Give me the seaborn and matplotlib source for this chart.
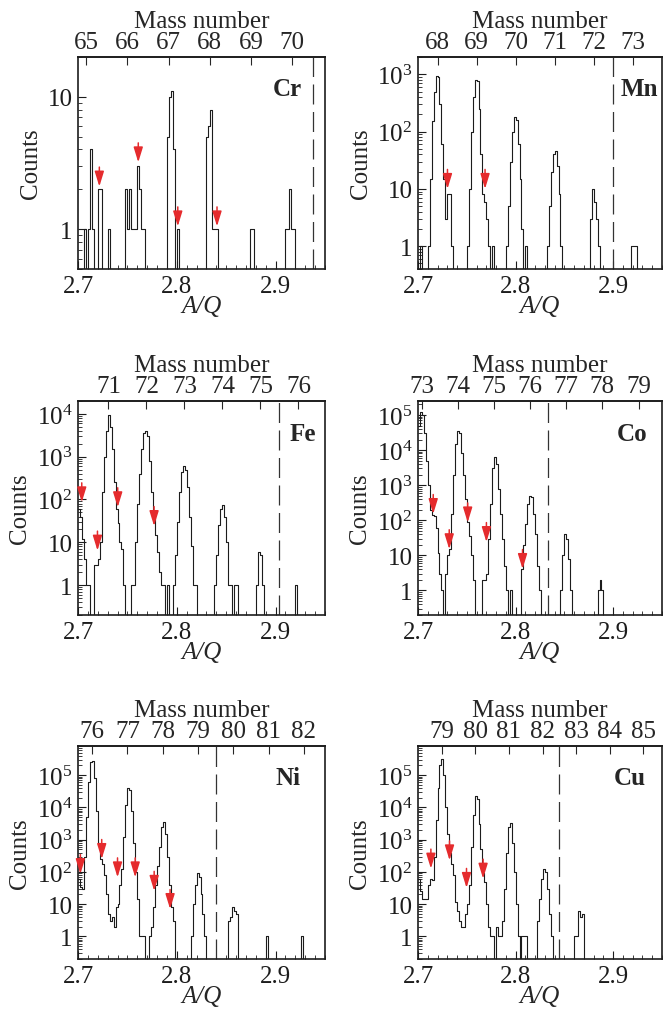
import numpy as np
import pandas as pd
import matplotlib
matplotlib.use("Agg")
import matplotlib.pyplot as plt
import seaborn as sns
from matplotlib.ticker import (FixedLocator, MultipleLocator, FuncFormatter,
                               NullFormatter, NullLocator)

sns.set_style("ticks")
plt.rcParams["font.family"] = ["Liberation Serif", "DejaVu Serif"]
plt.rcParams["mathtext.fontset"] = "custom"
plt.rcParams["mathtext.rm"] = "Liberation Serif"
plt.rcParams["mathtext.it"] = "Liberation Serif:italic"
plt.rcParams["mathtext.bf"] = "Liberation Serif:bold"

BIN_WIDTH = 0.002
AQ_RANGE = (2.70, 2.95)

# Histogram contents: (A/Q of left edge of first bin, counts in consecutive bins)
cr_segments = [
    (2.706, [1, 0, 1, 4, 1]),
    (2.720, [2, 2]),
    (2.730, [1]),
    (2.748, [2, 1, 2, 1, 1, 1, 3, 2, 1, 1]),
    (2.790, [5, 10, 11, 4, 0, 1]),
    (2.830, [5, 6, 8, 1, 1, 1]),
    (2.874, [1, 1]),
    (2.910, [1, 1, 2, 1, 1]),
]
mn_segments = [
    (2.702, [1]),
    (2.710, [1, 15, 150, 500, 950, 900, 300, 60, 15, 3, 8, 8, 1]),
    (2.750, [1, 10, 100, 400, 800, 750, 250, 40, 8, 6, 3, 1, 0, 1]),
    (2.790, [1, 5, 30, 100, 180, 160, 60, 15, 2, 0, 1]),
    (2.832, [1, 5, 20, 40, 45, 25, 8, 1]),
    (2.876, [3, 10, 6, 3, 1]),
    (2.918, [1, 1, 1]),
]
fe_segments = [
    (2.700, [60, 40, 12, 4, 1, 1]),
    (2.716, [3, 3, 4, 10, 150, 1000, 4000, 9500, 5000, 1500, 250, 60, 28, 10, 7, 1]),
    (2.754, [1, 1, 10, 80, 400, 1500, 3500, 4000, 3000, 800, 150, 40, 15, 6, 2, 1, 1, 0, 1]),
    (2.796, [1, 5, 30, 150, 450, 600, 500, 200, 40, 8, 1, 1]),
    (2.838, [1, 5, 25, 60, 75, 40, 10, 1, 1, 0, 1, 1]),
    (2.880, [1, 6, 5, 1]),
    (2.920, [1]),
]
co_segments = [
    (2.700, [50000, 120000, 100000, 30000, 5000, 1000, 200, 140, 130, 60, 12, 3, 1, 0,
             3, 10, 15, 150, 2000, 15000, 35000, 30000, 8000, 2000, 400, 90, 35, 10, 2]),
    (2.766, [2, 2, 3, 30, 300, 3000, 6500, 4000, 800, 150, 30, 5, 1, 0, 1]),
    (2.806, [4, 20, 80, 300, 500, 450, 150, 40, 5, 1]),
    (2.846, [1, 10, 40, 30, 8, 1]),
    (2.884, [1, 2, 1]),
]
ni_segments = [
    (2.700, [60, 35, 30, 300, 5000, 60000, 250000, 280000, 80000, 8000, 800, 250, 180,
             80, 20, 5, 3, 4, 2, 8, 10, 40, 120, 1200, 12000, 40000, 35000, 8000, 800,
             100, 15, 1, 1, 1]),
    (2.772, [1, 2, 8, 40, 150, 600, 2500, 3500, 1500, 300, 40, 8, 3]),
    (2.814, [1, 10, 40, 90, 70, 20, 5, 1]),
    (2.852, [3, 4, 8, 6, 5]),
    (2.890, [1]),
    (2.926, [1]),
]
cu_segments = [
    (2.700, [60, 25, 15, 15, 15, 40, 60, 55, 300, 4000, 40000, 200000, 320000, 100000,
             10000, 1500, 400, 180, 80, 12, 6, 3, 2, 2, 5, 10, 40, 600, 6000, 22000,
             18000, 3000, 500, 90, 50, 10, 2, 1, 1, 0, 2, 1]),
    (2.784, [1, 3, 30, 400, 2500, 3200, 800, 100, 10, 1, 0, 1, 1, 1]),
    (2.822, [3, 15, 60, 120, 100, 30, 5, 1]),
    (2.860, [1, 1, 6, 4, 5]),
]

# Marked positions (A/Q) and the count level each arrow points at
cr_arrow_x = [2.7216, 2.761, 2.801, 2.8407]
cr_arrow_y = [2.1, 3.2, 1.05, 1.05]
mn_arrow_x = [2.7302, 2.7687]
mn_arrow_y = [10, 10]
fe_arrow_x = [2.7038, 2.7197, 2.7402, 2.7770]
fe_arrow_y = [86, 6.4, 66, 24]
co_arrow_x = [2.7156, 2.7320, 2.7509, 2.7701, 2.8071]
co_arrow_y = [151, 15, 87, 24, 4.1]
ni_arrow_x = [2.7024, 2.7240, 2.7400, 2.7579, 2.7771, 2.7932]
ni_arrow_y = [86, 252, 68, 68, 26, 7.1]
cu_arrow_x = [2.7132, 2.7323, 2.7497, 2.7667]
cu_arrow_y = [127, 229, 32, 62]

elements = ["Cr", "Mn", "Fe", "Co", "Ni", "Cu"]
proton_numbers = [24, 25, 26, 27, 28, 29]
mass_ticks = [list(range(65, 71)), list(range(68, 74)), list(range(71, 77)),
              list(range(73, 80)), list(range(76, 83)), list(range(79, 86))]
dashed_aq = [2.9375, 2.9000, 2.9038, 2.8333, 2.8393, 2.8448]
count_limits = [(0.5, 20), (0.4, 2000), (0.2, 2e4), (0.2, 2.5e5), (0.2, 8e5), (0.2, 8e5)]

segments = [cr_segments, mn_segments, fe_segments, co_segments, ni_segments, cu_segments]
arrows_x = [cr_arrow_x, mn_arrow_x, fe_arrow_x, co_arrow_x, ni_arrow_x, cu_arrow_x]
arrows_y = [cr_arrow_y, mn_arrow_y, fe_arrow_y, co_arrow_y, ni_arrow_y, cu_arrow_y]

# Layout: axes rectangles in pixels, element label x (axes fraction)
W, H = 671, 1012
col_left = [78, 418]
col_width = [247, 244]
row_top = [58, 402, 747]
row_height = [212, 214, 213]
label_x = [0.905, 0.985, 0.965, 0.94, 0.90, 0.935]

RED = "#e52b2d"
LINE = "#1c1c1c"
TICK_SIZE = 18
LABEL_SIZE = 18

n_bins = int(round((AQ_RANGE[1] - AQ_RANGE[0]) / BIN_WIDTH))
centers = AQ_RANGE[0] + BIN_WIDTH * (np.arange(n_bins) + 0.5)


def counts_from_segments(segs):
    counts = np.zeros(n_bins)
    for start, values in segs:
        i0 = int(round((start - AQ_RANGE[0]) / BIN_WIDTH))
        counts[i0:i0 + len(values)] = values
    return counts


def decade_label(v, pos):
    e = int(round(np.log10(v)))
    if e == 0:
        return "1"
    if e == 1:
        return "10"
    return r"$10^{%d}$" % e


def log_ticks(lo, hi):
    """Decade ticks and 2..9 sub-ticks that fall inside [lo, hi]."""
    e0, e1 = int(np.floor(np.log10(lo))), int(np.ceil(np.log10(hi)))
    major = [10.0 ** e for e in range(e0, e1 + 1) if lo <= 10.0 ** e <= hi]
    minor = [m * 10.0 ** e for e in range(e0, e1 + 1) for m in range(2, 10)
             if lo <= m * 10.0 ** e <= hi]
    return major, minor


fig = plt.figure(figsize=(W / 100, H / 100), dpi=100)

for k in range(6):
    r, c = divmod(k, 2)
    rect = [col_left[c] / W, 1 - (row_top[r] + row_height[r]) / H,
            col_width[c] / W, row_height[r] / H]
    ax = fig.add_axes(rect)
    df = pd.DataFrame({"aq": centers, "counts": counts_from_segments(segments[k])})
    sns.histplot(data=df, x="aq", weights="counts", binwidth=BIN_WIDTH,
                 binrange=AQ_RANGE, element="step", fill=False, color=LINE,
                 linewidth=0.8, ax=ax)
    ax.set_yscale("log")
    ax.set_xlim(*AQ_RANGE)
    ax.set_ylim(*count_limits[k])

    ax.axvline(dashed_aq[k], color="#333333", lw=0.9, linestyle=(0, (16, 6)))

    for x, y in zip(arrows_x[k], arrows_y[k]):
        ax.annotate("", xy=(x, y), xytext=(0, 14), textcoords="offset points",
                    arrowprops=dict(arrowstyle="-|>,head_length=0.65,head_width=0.2",
                                    mutation_scale=14, color=RED, lw=1.1,
                                    shrinkA=0, shrinkB=0))

    ax.text(label_x[k], 0.85, elements[k], transform=ax.transAxes, ha="right",
            va="center", fontsize=18, fontweight="bold")

    major_y, minor_y = log_ticks(*count_limits[k])
    ax.xaxis.set_major_locator(MultipleLocator(0.1))
    ax.xaxis.set_minor_locator(MultipleLocator(0.01))
    ax.xaxis.set_major_formatter(FuncFormatter(lambda v, p: f"{v:.1f}"))
    ax.yaxis.set_major_locator(FixedLocator(major_y))
    ax.yaxis.set_minor_locator(FixedLocator(minor_y))
    ax.yaxis.set_major_formatter(FuncFormatter(decade_label))
    ax.yaxis.set_minor_formatter(NullFormatter())
    ax.tick_params(axis="both", which="both", direction="in", top=False, right=False,
                   colors="#1c1c1c")
    ax.tick_params(which="major", length=6, width=0.8, labelsize=TICK_SIZE, pad=4)
    ax.tick_params(which="minor", length=3, width=0.6)
    for s in ax.spines.values():
        s.set_linewidth(1.2)
        s.set_color("#1c1c1c")

    ax.set_xlabel("A/Q", fontsize=LABEL_SIZE, fontstyle="italic", labelpad=-1)
    ax.set_ylabel("Counts", fontsize=LABEL_SIZE, labelpad=4)

    z = proton_numbers[k]
    sec = ax.secondary_xaxis("top", functions=(lambda x, z=z: x * z, lambda m, z=z: m / z))
    sec.xaxis.set_major_locator(FixedLocator(mass_ticks[k]))
    sec.xaxis.set_minor_locator(NullLocator())
    sec.tick_params(direction="in", length=6, width=0.8, labelsize=TICK_SIZE, pad=3)
    sec.spines["top"].set_linewidth(1.2)
    sec.set_xlabel("Mass number", fontsize=LABEL_SIZE, labelpad=3)

fig.savefig("out.png", dpi=100)
